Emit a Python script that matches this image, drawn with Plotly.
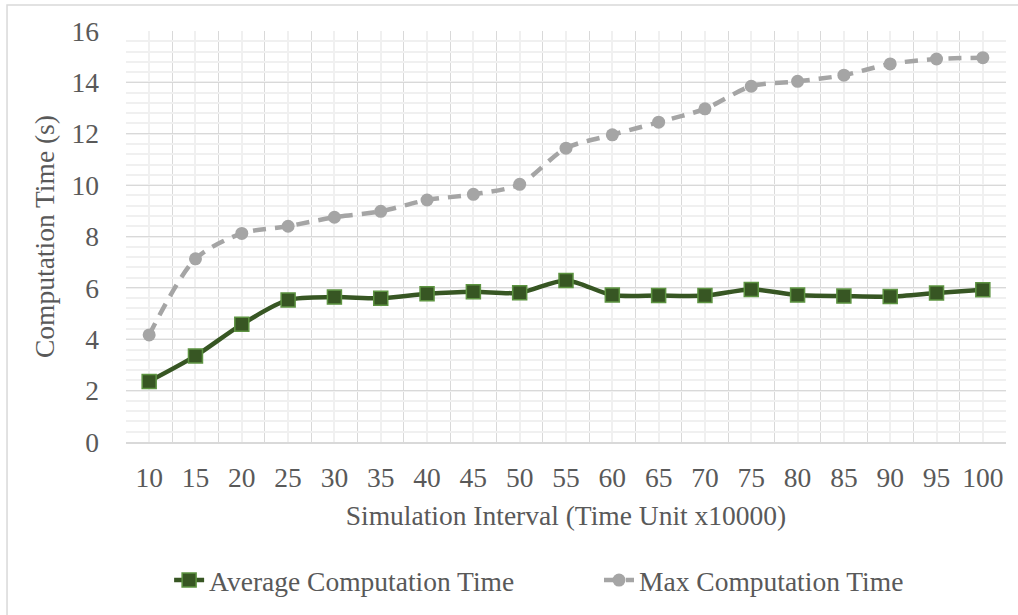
import plotly.graph_objects as go

categories = ["10", "15", "20", "25", "30", "35", "40", "45", "50", "55",
              "60", "65", "70", "75", "80", "85", "90", "95", "100"]
avg_time = [2.36, 3.35, 4.58, 5.53, 5.64, 5.60, 5.77, 5.85, 5.81, 6.29,
            5.72, 5.70, 5.70, 5.94, 5.72, 5.68, 5.66, 5.80, 5.93]
max_time = [4.17, 7.13, 8.12, 8.40, 8.75, 8.98, 9.42, 9.64, 10.03, 11.44,
            11.96, 12.45, 12.97, 13.85, 14.04, 14.28, 14.72, 14.91, 14.96]
y_ticks = [0, 2, 4, 6, 8, 10, 12, 14, 16]

x_idx = list(range(len(categories)))
FONT = "Liberation Serif, Times New Roman, serif"
TXT = "#595959"
FS = 27.5

fig = go.Figure()
fig.add_trace(go.Scatter(
    x=x_idx, y=avg_time, name="Average Computation Time", mode="lines+markers",
    legend="legend",
    line=dict(color="#375623", width=4.5, shape="spline", smoothing=0.8),
    marker=dict(symbol="square", size=14, color="#375623",
                line=dict(color="#5E9442", width=1.5)),
))
fig.add_trace(go.Scatter(
    x=x_idx, y=max_time, name="Max Computation Time", mode="lines+markers",
    legend="legend2",
    line=dict(color="#A5A5A5", width=4.5, shape="spline", smoothing=0.8, dash="13px,9px"),
    marker=dict(symbol="circle", size=13, color="#A5A5A5"),
))

legend_common = dict(orientation="h", xanchor="left", y=-0.333, yanchor="middle",
                     font=dict(family=FONT, size=FS, color=TXT), bgcolor="rgba(0,0,0,0)")

fig.update_layout(
    width=1018, height=615,
    margin=dict(l=126, r=12, t=31, b=172),
    paper_bgcolor="white", plot_bgcolor="white",
    font=dict(family=FONT, size=FS, color=TXT),
    showlegend=True,
    legend=dict(x=0.049, **legend_common),
    legend2=dict(x=0.5375, **legend_common),
    shapes=[dict(type="rect", xref="paper", yref="paper",
                 x0=-0.1352, x1=1.03, y0=-0.45, y1=1.063,
                 line=dict(color="#D9D9D9", width=1.5), layer="below")],
)

fig.update_xaxes(
    range=[-0.5, len(categories) - 0.5],
    tickmode="array", tickvals=x_idx, ticktext=categories,
    showgrid=True, gridcolor="#F0F0F0", gridwidth=1.5,
    minor=dict(tickmode="array", tickvals=[i - 0.5 for i in range(len(categories) + 1)],
               showgrid=True, gridcolor="#D9D9D9", gridwidth=1),
    ticks="", ticklabelstandoff=10,
    showline=True, linecolor="#D9D9D9", linewidth=1.5,
    zeroline=False, automargin=False,
    tickfont=dict(family=FONT, size=FS, color=TXT),
    title=dict(text="Simulation Interval (Time Unit x10000)", standoff=14,
               font=dict(family=FONT, size=FS, color=TXT)),
)
fig.update_yaxes(
    range=[0, 16], tickmode="array", tickvals=y_ticks,
    showgrid=True, gridcolor="#D9D9D9", gridwidth=1,
    minor=dict(dtick=0.4, tick0=0, showgrid=True, gridcolor="#F0F0F0", gridwidth=1.5),
    ticks="", ticklabelstandoff=26,
    zeroline=False, showline=False, automargin=False,
    tickfont=dict(family=FONT, size=FS, color=TXT),
    title=dict(text="Computation Time (s)", standoff=8,
               font=dict(family=FONT, size=FS, color=TXT)),
)

fig.write_html("out.html", config={"displayModeBar": False},
               post_script="document.body.style.margin='0px';")
